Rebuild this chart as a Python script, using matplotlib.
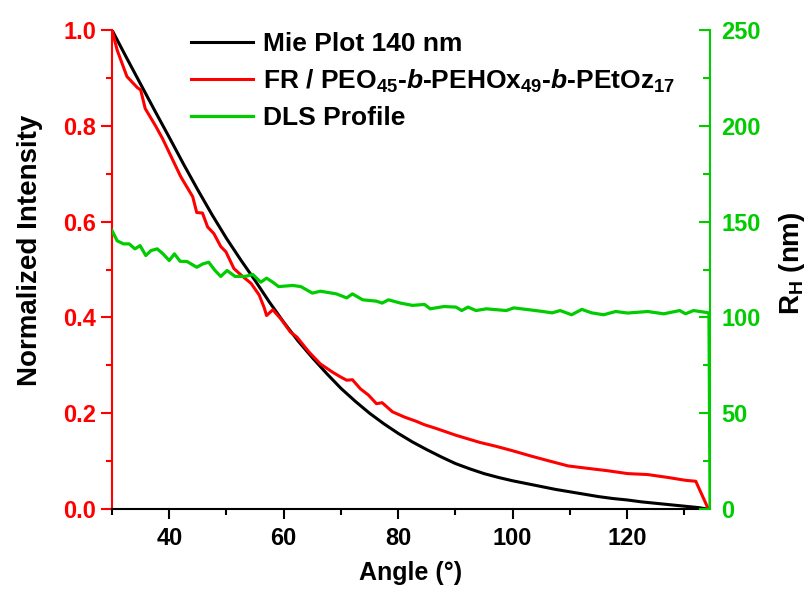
import numpy as np
import matplotlib
matplotlib.use("Agg")
import matplotlib.pyplot as plt

plt.rcParams['font.family'] = ['Liberation Sans', 'DejaVu Sans']
plt.rcParams['font.weight'] = 'bold'
plt.rcParams['mathtext.fontset'] = 'custom'
plt.rcParams['mathtext.rm'] = 'Liberation Sans:bold'
plt.rcParams['mathtext.bf'] = 'Liberation Sans:bold'
plt.rcParams['mathtext.it'] = 'Liberation Sans:bold:italic'

# Mie plot 140 nm (normalized intensity)
mie_angle = [30, 32.5, 35, 37.5, 40, 42.5, 45, 47.5, 50, 52.5, 55, 57.5, 60,
             62.5, 65, 67.5, 70, 72.5, 75, 77.5, 80, 82.5, 85, 87.5, 90, 92.5,
             95, 97.5, 100, 102.5, 105, 107.5, 110, 112.5, 115, 117.5, 120,
             122.5, 125, 127.5, 130, 132.5, 134]
mie_int = [1.0, 0.943, 0.887, 0.831, 0.776, 0.72, 0.666, 0.614, 0.565, 0.52,
           0.477, 0.432, 0.39, 0.351, 0.316, 0.283, 0.252, 0.225, 0.200,
           0.178, 0.158, 0.140, 0.124, 0.109, 0.095, 0.084, 0.074, 0.066,
           0.059, 0.053, 0.047, 0.041, 0.036, 0.031, 0.026, 0.022, 0.019,
           0.015, 0.012, 0.009, 0.006, 0.003, 0.0]

# FR / PEO45-b-PEHOx49-b-PEtOz17
fr_angle = [30, 30.9, 32.6, 34.4, 35.0, 35.8, 37.6, 38.8, 40.6, 42.0, 44.1,
            44.8, 45.8, 46.7, 47.8, 49.0, 49.9, 51.3, 52.5, 54.3, 55.7, 56.6,
            57.0, 58.1, 59.5, 61.2, 62.3, 64.4, 66.4, 68.5, 69.9, 71.0, 72.0,
            73.4, 74.8, 76.2, 77.2, 79.0, 81.1, 83.2, 84.6, 86.7, 90.1, 94.3,
            97.1, 99.9, 103.4, 106.2, 109.7, 113.1, 116.6, 120.1, 123.6,
            127.1, 130.2, 132.0, 134.2]
fr_int = [1.0, 0.958, 0.903, 0.88, 0.875, 0.836, 0.80, 0.774, 0.729, 0.694,
          0.652, 0.619, 0.618, 0.589, 0.575, 0.548, 0.537, 0.502, 0.489,
          0.471, 0.447, 0.420, 0.404, 0.416, 0.397, 0.369, 0.359, 0.328,
          0.303, 0.286, 0.276, 0.269, 0.270, 0.251, 0.238, 0.220, 0.222,
          0.203, 0.192, 0.183, 0.176, 0.168, 0.154, 0.139, 0.131, 0.122,
          0.110, 0.101, 0.090, 0.085, 0.080, 0.074, 0.072, 0.066, 0.060,
          0.058, 0.0]

# DLS profile (R_H, nm)
dls_angle = [30, 30.9, 32.0, 33.0, 34.0, 34.9, 35.9, 36.8, 37.9, 38.9, 40.0,
             40.9, 41.9, 43.1, 44.8, 45.9, 46.9, 48.0, 49.0, 50.1, 51.5, 53.2,
             54.6, 56.0, 57.0, 58.1, 59.1, 61.6, 63.0, 65.0, 66.4, 69.2, 71.0,
             72.0, 73.8, 76.2, 77.2, 78.3, 80.4, 82.5, 84.6, 85.6, 88.0, 90.1,
             91.1, 92.2, 93.6, 95.4, 98.9, 100.2, 104.8, 106.9, 108.3, 110.3,
             112.1, 113.8, 115.9, 118.0, 120.1, 123.6, 126.4, 129.2, 130.2,
             131.6, 134.3, 134.5]
dls_rh = [145.3, 140.0, 138.4, 138.4, 135.8, 137.5, 132.3, 134.9, 135.8,
          133.2, 129.7, 133.2, 129.3, 129.2, 126.2, 128.0, 128.8, 124.5,
          121.4, 124.5, 121.4, 121.4, 122.4, 118.4, 120.5, 118.4, 116.1,
          116.7, 116.1, 112.7, 113.7, 112.3, 110.2, 112.3, 109.2, 108.5,
          107.5, 109.2, 107.5, 106.3, 106.8, 104.5, 105.7, 105.4, 103.6,
          105.4, 103.6, 104.5, 103.6, 105.0, 103.3, 102.4, 103.6, 101.4,
          104.2, 102.4, 101.4, 103.1, 102.3, 103.1, 101.9, 103.6, 101.9,
          103.6, 102.4, 0.0]

red = '#ff0000'
green = '#00cc00'

fig = plt.figure(figsize=(8.06, 6.01), dpi=100)
ax = fig.add_axes([0.139, 0.153, 0.742, 0.797])
ax2 = ax.twinx()

l1, = ax.plot(mie_angle, mie_int, color='black', lw=2.2, label='Mie Plot 140 nm')
l2, = ax.plot(fr_angle, fr_int, color=red, lw=2.2,
              label=r'FR / PEO$_{45}$-$\mathit{b}$-PEHOx$_{49}$-$\mathit{b}$-PEtOz$_{17}$')
l3, = ax2.plot(dls_angle, dls_rh, color=green, lw=2.3, label='DLS Profile')

ax.set_xlim(30, 134.5)
ax.set_ylim(0, 1.0)
ax2.set_ylim(0, 250)

ax.set_xticks([40, 60, 80, 100, 120])
ax.set_xticks(np.arange(30, 135, 10), minor=True)
ax.set_yticks(np.arange(0, 1.01, 0.2))
ax.set_yticks(np.arange(0, 1.01, 0.1), minor=True)
ax.set_yticklabels(['0.0', '0.2', '0.4', '0.6', '0.8', '1.0'])
ax2.set_yticks([0, 50, 100, 150, 200, 250])
ax2.set_yticks(np.arange(0, 251, 25), minor=True)

ax.spines['top'].set_visible(False)
ax2.spines['top'].set_visible(False)
ax.spines['left'].set_color(red)
ax2.spines['left'].set_visible(False)
ax.spines['right'].set_visible(False)
ax2.spines['right'].set_color(green)
ax2.spines['bottom'].set_visible(False)
for sp in [ax.spines['left'], ax.spines['bottom'], ax2.spines['right']]:
    sp.set_linewidth(1.5)

ax.tick_params(axis='x', which='major', direction='out', length=7, width=1.5,
               labelsize=17, pad=6)
ax.tick_params(axis='x', which='minor', direction='out', length=4, width=1.5)
ax.tick_params(axis='y', which='major', direction='out', length=8, width=1.5,
               color=red, labelcolor=red, labelsize=17)
ax.tick_params(axis='y', which='minor', direction='out', length=4, width=1.5,
               color=red)
ax2.tick_params(axis='y', which='major', direction='in', length=8, width=1.5,
                color=green, labelcolor=green, labelsize=17, pad=8)
ax2.tick_params(axis='y', which='minor', direction='in', length=5, width=1.5,
                color=green)

ax.set_xlabel('Angle (°)', fontsize=18, fontweight='bold', labelpad=8)
ax.set_ylabel('Normalized Intensity', fontsize=20, fontweight='bold')
ax2.set_ylabel(r'R$_{\mathrm{H}}$ (nm)', fontsize=20, fontweight='bold')
ax.yaxis.set_label_coords(-0.115, 0.541)
ax2.yaxis.set_label_coords(1.112, 0.514)

ax.legend(handles=[l1, l2, l3], loc='upper left', bbox_to_anchor=(0.132, 0.995),
          frameon=False, fontsize=19, handlelength=2.35, handletextpad=0.38,
          labelspacing=0.42, borderpad=0, borderaxespad=0)

fig.savefig('out.png', dpi=100)
